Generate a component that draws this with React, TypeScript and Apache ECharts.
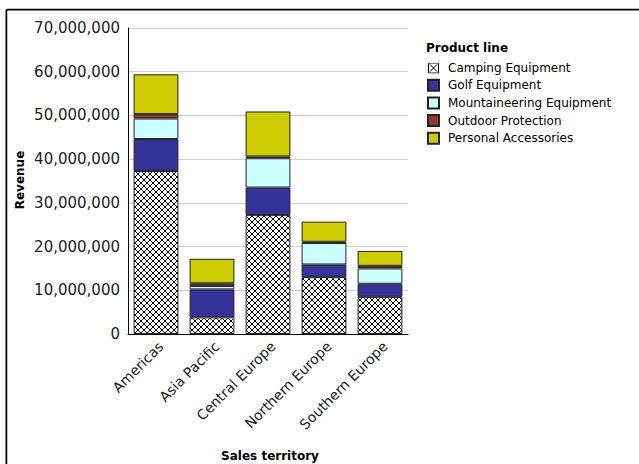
import React, { useEffect, useRef } from "react";
import * as echarts from "echarts";

const territories = ["Americas", "Asia Pacific", "Central Europe", "Northern Europe", "Southern Europe"];
const productLines = ["Camping Equipment", "Golf Equipment", "Mountaineering Equipment", "Outdoor Protection", "Personal Accessories"];
const camping = [37300000, 3800000, 27200000, 13000000, 8500000];
const golf = [7300000, 6400000, 6300000, 2900000, 3000000];
const mountaineering = [4700000, 800000, 6700000, 4900000, 3500000];
const outdoor = [1000000, 600000, 400000, 300000, 600000];
const personal = [9100000, 5600000, 10300000, 4600000, 3400000];
const seriesValues = [camping, golf, mountaineering, outdoor, personal];
const yTicks = [0, 10000000, 20000000, 30000000, 40000000, 50000000, 60000000, 70000000];

const FONT = "DejaVu Sans";

const hatchSvg =
  "<svg xmlns='http://www.w3.org/2000/svg' width='6' height='6'><rect width='6' height='6' fill='white'/><path d='M0 0L6 6M6 0L0 6' stroke='black' stroke-width='1'/></svg>";
const hatchUrl = "data:image/svg+xml;charset=utf-8," + encodeURIComponent(hatchSvg);
const iconSvg =
  "<svg xmlns='http://www.w3.org/2000/svg' width='11' height='11'><rect x='0.5' y='0.5' width='10' height='10' fill='white' stroke='black'/><path d='M2 2L9 9M9 2L2 9' stroke='black' stroke-width='1'/></svg>";
const iconUrl = "image://data:image/svg+xml;charset=utf-8," + encodeURIComponent(iconSvg);

const colors: any[] = [
  { image: hatchUrl, repeat: "repeat", imageWidth: 6, imageHeight: 6 },
  "#333399",
  "#ccffff",
  "#993333",
  "#cccc00",
];

export default function App() {
  const ref = useRef<HTMLDivElement>(null);
  useEffect(() => {
    document.body.style.margin = "0";
    const chart = echarts.init(ref.current!, null, { renderer: "svg" });
    chart.setOption({
      animation: false,
      textStyle: { fontFamily: FONT },
      grid: { left: 128, right: 231, top: 28, bottom: 130, containLabel: false },
      title: {
        text: "Product line",
        left: 421,
        top: 37,
        textStyle: { fontFamily: FONT, fontSize: 12, fontWeight: "bold", color: "#000" },
      },
      legend: {
        orient: "vertical",
        left: 427,
        top: 62,
        padding: 0,
        itemWidth: 11,
        itemHeight: 11,
        itemGap: 4.7,
        textStyle: { fontFamily: FONT, fontSize: 12, color: "#000", padding: [0, 0, 0, 4] },
        data: productLines.map((n, i) => (i === 0 ? { name: n, icon: iconUrl } : { name: n, icon: "rect" })),
      },
      xAxis: {
        type: "category",
        data: territories,
        axisLine: { lineStyle: { color: "#000", width: 1 } },
        axisTick: { show: false },
        axisLabel: {
          rotate: 45,
          fontFamily: FONT,
          fontSize: 14,
          color: "#222",
          margin: 5,
          interval: 0,
          verticalAlign: "top",
        },
      },
      yAxis: {
        type: "value",
        min: yTicks[0],
        max: yTicks[yTicks.length - 1],
        interval: 10000000,
        axisLine: { show: true, lineStyle: { color: "#000", width: 1 } },
        axisTick: { show: false },
        splitLine: { lineStyle: { color: "#cfcfcf", width: 1 } },
        axisLabel: {
          fontFamily: FONT,
          fontSize: 15,
          color: "#222",
          margin: 8,
          formatter: (v: number) => v.toLocaleString("en-US"),
        },
      },
      series: productLines.map((name, i) => ({
        name,
        type: "bar",
        stack: "total",
        barWidth: "80%",
        data: seriesValues[i],
        itemStyle: { color: colors[i], borderColor: "#222", borderWidth: 1 },
      })),
      graphic: [
        {
          type: "text",
          x: 20,
          y: 180,
          rotation: Math.PI / 2,
          style: {
            text: "Revenue",
            font: `bold 12px "${FONT}"`,
            fill: "#000",
            align: "center",
            verticalAlign: "middle",
          },
        },
        {
          type: "text",
          x: 270,
          y: 456,
          style: {
            text: "Sales territory",
            font: `bold 12px "${FONT}"`,
            fill: "#000",
            align: "center",
            verticalAlign: "middle",
          },
        },
        { type: "line", shape: { x1: 6, y1: 10.5, x2: 639, y2: 10.5 }, style: { stroke: "#aaa", lineWidth: 1 } },
        { type: "line", shape: { x1: 5.5, y1: 10, x2: 5.5, y2: 464 }, style: { stroke: "#aaa", lineWidth: 1 } },
        { type: "line", shape: { x1: 6.5, y1: 9.5, x2: 639, y2: 9.5 }, style: { stroke: "#000", lineWidth: 1.5 } },
        { type: "line", shape: { x1: 6.5, y1: 9.5, x2: 6.5, y2: 464 }, style: { stroke: "#000", lineWidth: 1.5 } },
      ],
    });
    return () => chart.dispose();
  }, []);
  return <div ref={ref} style={{ width: 639, height: 464 }} />;
}
